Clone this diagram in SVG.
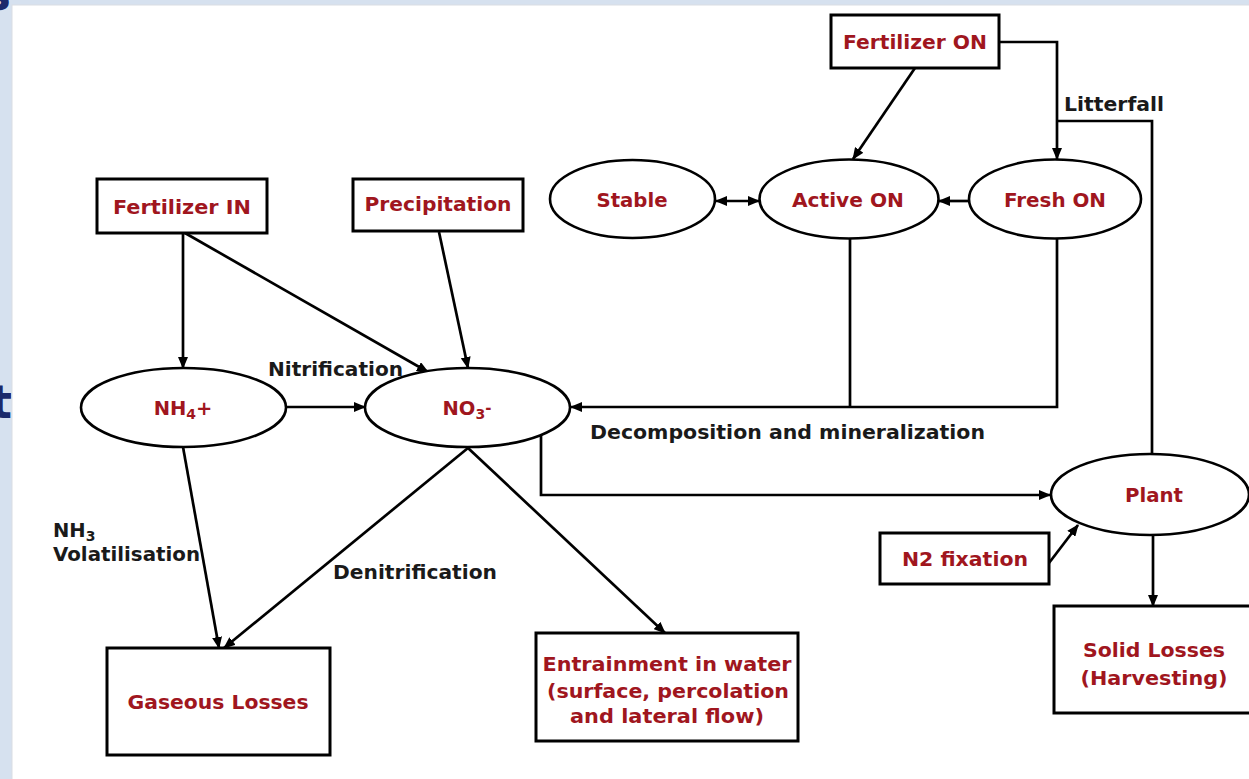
<svg xmlns="http://www.w3.org/2000/svg" width="1249" height="779" viewBox="0 0 1249 779">
<defs>
<marker id="ah" markerUnits="userSpaceOnUse" markerWidth="12" markerHeight="10" refX="11" refY="5" orient="auto-start-reverse" viewBox="0 0 12 10">
<path d="M0,0 L12,5 L0,10 z" fill="#000"/>
</marker>
<style>
.box{fill:#fff;stroke:#000;stroke-width:3}
.ell{fill:#fff;stroke:#000;stroke-width:2.6}
.nl{font-family:"DejaVu Sans",Verdana,sans-serif;font-weight:bold;font-size:19.5px;fill:#a0161e;text-anchor:middle}
.el{font-family:"DejaVu Sans",Verdana,sans-serif;font-weight:bold;font-size:19.5px;fill:#1a1a1a}
.cn{fill:none;stroke:#000;stroke-width:2.7}
.cn-a{fill:none;stroke:#000;stroke-width:2.7;marker-end:url(#ah)}
.bg{font-family:"DejaVu Sans",Verdana,sans-serif;font-weight:bold;font-size:46px;fill:#1b2a6b;text-anchor:end}
</style>
</defs>
<rect width="1249" height="779" fill="#d6e1ef"/>
<text class="bg" x="11" y="10">s</text>
<text class="bg" x="12" y="418">t</text>
<rect x="12" y="5" width="1245" height="780" fill="#fff" stroke="#d9dde3" stroke-width="1"/>

<g id="connectors">
<line class="cn-a" x1="183" y1="233" x2="183" y2="368"/>
<line class="cn-a" x1="185" y1="233" x2="428" y2="372"/>
<line class="cn-a" x1="439" y1="232" x2="468" y2="368"/>
<line class="cn-a" x1="286" y1="407" x2="365" y2="407"/>
<line class="cn-a" x1="915" y1="68" x2="853" y2="159"/>
<polyline class="cn-a" points="999,42 1057,42 1057,159"/>
<polyline class="cn" points="1057,121 1152,121 1152,454"/>
<line class="cn-a" x1="716" y1="201" x2="759" y2="201" style="marker-start:url(#ah)"/>
<line class="cn-a" x1="969" y1="201" x2="939" y2="201"/>
<line class="cn" x1="850" y1="238" x2="850" y2="407"/>
<polyline class="cn-a" points="1057,238 1057,407 571,407"/>
<polyline class="cn-a" points="541,435 541,495 1050,495"/>
<line class="cn-a" x1="1049" y1="563" x2="1078" y2="525"/>
<line class="cn-a" x1="1153" y1="535" x2="1153" y2="606"/>
<line class="cn-a" x1="183" y1="447" x2="219" y2="648"/>
<line class="cn-a" x1="468" y1="448" x2="224" y2="648"/>
<line class="cn-a" x1="468" y1="448" x2="665" y2="633"/>
<text class="el" x="268" y="376" textLength="135" lengthAdjust="spacingAndGlyphs">Nitrification</text>
<text class="el" x="1064" y="111" textLength="100" lengthAdjust="spacingAndGlyphs">Litterfall</text>
<text class="el" x="590" y="439" textLength="395" lengthAdjust="spacingAndGlyphs">Decomposition and mineralization</text>
<text class="el" x="53" y="537" font-size="20">NH<tspan font-size="14" dy="4">3</tspan></text>
<text class="el" x="53" y="561" textLength="147" lengthAdjust="spacingAndGlyphs">Volatilisation</text>
<text class="el" x="333" y="579" textLength="164" lengthAdjust="spacingAndGlyphs">Denitrification</text>
</g>

<g id="fertilizer-in">
<rect class="box" x="97" y="179" width="170" height="54"/>
<text class="nl" x="182" y="214" textLength="138" lengthAdjust="spacingAndGlyphs">Fertilizer IN</text>
</g>
<g id="precipitation">
<rect class="box" x="353" y="179" width="170" height="52"/>
<text class="nl" x="438" y="211" textLength="147" lengthAdjust="spacingAndGlyphs">Precipitation</text>
</g>
<g id="fertilizer-on">
<rect class="box" x="831" y="15" width="168" height="53"/>
<text class="nl" x="915" y="49" textLength="144" lengthAdjust="spacingAndGlyphs">Fertilizer ON</text>
</g>
<g id="stable">
<ellipse class="ell" cx="632.5" cy="199" rx="82.5" ry="39"/>
<text class="nl" x="632" y="207" textLength="71" lengthAdjust="spacingAndGlyphs">Stable</text>
</g>
<g id="active-on">
<ellipse class="ell" cx="849" cy="199" rx="89.5" ry="39.5"/>
<text class="nl" x="848" y="207" textLength="112" lengthAdjust="spacingAndGlyphs">Active ON</text>
</g>
<g id="fresh-on">
<ellipse class="ell" cx="1055" cy="199" rx="86" ry="39.5"/>
<text class="nl" x="1055" y="207" textLength="102" lengthAdjust="spacingAndGlyphs">Fresh ON</text>
</g>
<g id="nh4">
<ellipse class="ell" cx="183.5" cy="407.5" rx="102.5" ry="39.5"/>
<text class="nl" x="183" y="415" font-size="20">NH<tspan font-size="14" dy="4">4</tspan><tspan dy="-4">+</tspan></text>
</g>
<g id="no3">
<ellipse class="ell" cx="467.5" cy="407.5" rx="102.5" ry="39.5"/>
<text class="nl" x="467" y="415" font-size="20">NO<tspan font-size="14" dy="4">3</tspan><tspan font-size="15" dy="-6">-</tspan></text>
</g>
<g id="plant">
<ellipse class="ell" cx="1150" cy="494.5" rx="99" ry="40.5"/>
<text class="nl" x="1154" y="502" textLength="58" lengthAdjust="spacingAndGlyphs">Plant</text>
</g>
<g id="n2-fixation">
<rect class="box" x="880" y="533" width="169" height="51"/>
<text class="nl" x="965" y="566" textLength="126" lengthAdjust="spacingAndGlyphs">N2 fixation</text>
</g>
<g id="solid-losses">
<rect class="box" x="1054" y="606" width="205" height="107"/>
<text class="nl" x="1154" y="657" textLength="142" lengthAdjust="spacingAndGlyphs">Solid Losses</text>
<text class="nl" x="1154" y="685" textLength="147" lengthAdjust="spacingAndGlyphs">(Harvesting)</text>
</g>
<g id="gaseous-losses">
<rect class="box" x="107" y="648" width="223" height="107"/>
<text class="nl" x="218" y="709" textLength="181" lengthAdjust="spacingAndGlyphs">Gaseous Losses</text>
</g>
<g id="entrainment">
<rect class="box" x="536" y="633" width="262" height="108"/>
<text class="nl" x="667" y="671" textLength="249" lengthAdjust="spacingAndGlyphs">Entrainment in water</text>
<text class="nl" x="668" y="698" textLength="242" lengthAdjust="spacingAndGlyphs">(surface, percolation</text>
<text class="nl" x="667" y="723" textLength="194" lengthAdjust="spacingAndGlyphs">and lateral flow)</text>
</g>
</svg>
